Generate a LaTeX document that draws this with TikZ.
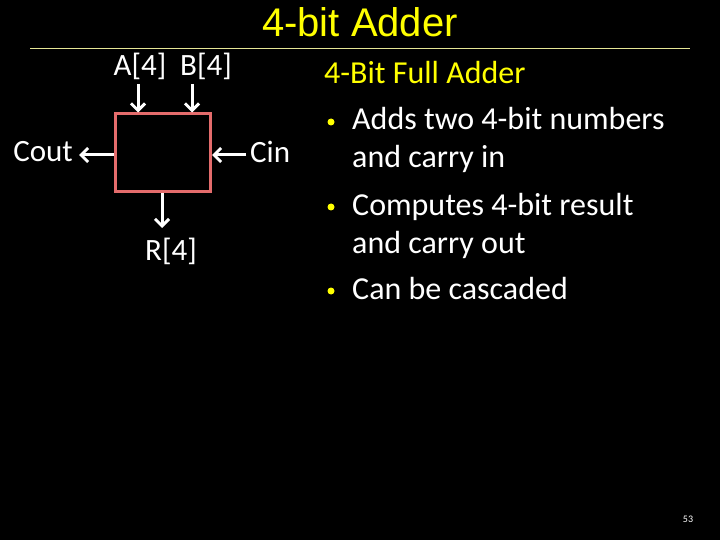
\documentclass[tikz,border=0pt]{standalone}
\usepackage{fontspec}
\setmainfont{Carlito}
\newfontfamily\titlefont{Liberation Sans}
\usetikzlibrary{arrows.meta}
\definecolor{slidebg}{RGB}{0,0,0}
\definecolor{titley}{RGB}{255,255,0}
\definecolor{rulecol}{RGB}{230,230,150}
\definecolor{boxred}{RGB}{228,108,108}
\definecolor{ink}{RGB}{255,255,255}

\begin{document}
\begin{tikzpicture}[x=1pt,y=-1pt,
    sig/.style={draw=ink,line width=3pt,-{Straight Barb[length=7pt,width=14pt,line width=3pt]}},
    lbl/.style={text=ink,font=\fontsize{31}{34}\selectfont,inner sep=0pt},
    txt/.style={text=ink,font=\fontsize{32}{36}\selectfont,anchor=base west,inner sep=0pt},
    dot/.style={circle,fill=titley,inner sep=0pt,minimum size=7pt}]
  % background
  \fill[slidebg] (0,0) rectangle (720,540);
  \useasboundingbox (0,0) rectangle (720,540);
  % title and rule
  \node[anchor=base,text=titley,font=\titlefont\fontsize{40}{44}\selectfont,inner sep=0pt]
    (title) at (360,37) {4-bit Adder};
  \draw[rulecol,line width=0.8pt] (30,48) -- (690,48);
  % adder block
  \node[draw=boxred,line width=3pt,minimum width=95pt,minimum height=78pt,inner sep=0pt]
    (adder) at (163,153) {};
  \node[lbl,anchor=base] (alabel) at (140,76) {A[4]};
  \node[lbl,anchor=base] (blabel) at (206,76) {B[4]};
  \node[lbl,anchor=east] (coutl) at (73,152) {Cout};
  \node[lbl,anchor=west] (cinl) at (250,152) {Cin};
  \node[lbl,anchor=base] (rlabel) at (171,260) {R[4]};
  \coordinate (ain) at (138,84);
  \coordinate (bin) at (192,84);
  \coordinate (cin) at (246,155);
  \coordinate (cout) at (79,155);
  \coordinate (rout) at (162,228);
  \draw[sig] (ain) -- (ain |- adder.north);
  \draw[sig] (bin) -- (bin |- adder.north);
  \draw[sig] (cin) -- (cin -| adder.east);
  \draw[sig] (cout -| adder.west) -- (cout);
  \draw[sig] (rout |- adder.south) -- (rout);
  % description
  \node[txt,text=titley] (head) at (324,84) {4-Bit Full Adder};
  \node[dot] (d1) at (331,122) {};
  \node[txt] (l1) at (352,130) {Adds two 4-bit numbers};
  \node[txt] (l2) at (352,168) {and carry in};
  \node[dot] (d2) at (331,207) {};
  \node[txt] (l3) at (352,215) {Computes 4-bit result};
  \node[txt] (l4) at (352,253) {and carry out};
  \node[dot] (d3) at (331,291) {};
  \node[txt] (l5) at (352,299) {Can be cascaded};
  % slide number
  \node[anchor=base,text=ink,font=\fontsize{10}{12}\selectfont,inner sep=0pt]
    (pageno) at (688,522) {53};
\end{tikzpicture}
\end{document}
